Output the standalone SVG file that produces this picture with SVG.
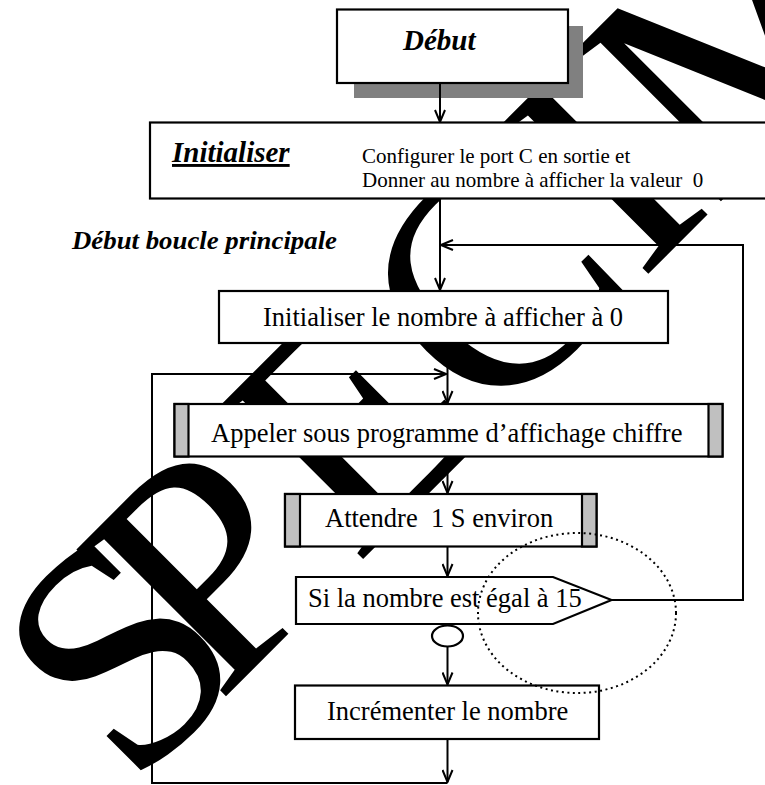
<svg xmlns="http://www.w3.org/2000/svg" width="765" height="785" viewBox="0 0 765 785">
  <style>
    .box { fill: #ffffff; stroke: #000000; stroke-width: 2.2; }
    .bar { fill: #c0c0c0; stroke: #000000; stroke-width: 2.2; }
    .wire { fill: none; stroke: #000000; stroke-width: 2; }
    .t { font-family: "Liberation Serif", "Times New Roman", serif; font-size: 26.5px; fill: #000000; }
    .small { font-family: "Liberation Serif", "Times New Roman", serif; font-size: 21px; fill: #000000; }
    .bi { font-family: "Liberation Serif", "Times New Roman", serif; font-weight: bold; font-style: italic; fill: #000000; }
    .wm { font-family: "Liberation Serif", "Times New Roman", serif; font-size: 320px; fill: #000000; }
  </style>
  <defs>
    <marker id="arrow" viewBox="0 0 14 12" refX="13" refY="6" markerWidth="14" markerHeight="12" markerUnits="userSpaceOnUse" orient="auto">
      <path d="M1,1 L13,6 L1,11" fill="none" stroke="#000000" stroke-width="2"/>
    </marker>
  </defs>

  <rect width="765" height="785" fill="#ffffff"/>

  <!-- diagonal watermark behind the chart -->
  <text class="wm" transform="translate(136,789) rotate(-45)" x="-5 118 314 502 715 820 1100 1295" y="-2">SPECIMEN</text>

  <g id="debut">
    <rect x="354" y="26" width="229" height="72" fill="#808080"/>
    <rect class="box" x="337" y="9.5" width="231" height="73.5"/>
    <text class="bi" x="403" y="50" font-size="29">Début</text>
  </g>

  <g id="initialiser">
    <rect class="box" x="150" y="122.5" width="625" height="76"/>
    <text class="bi" x="172" y="162" font-size="29" text-decoration="underline">Initialiser</text>
    <text class="small" x="362" y="163">Configurer le port C en sortie et</text>
    <text class="small" x="362" y="187" xml:space="preserve">Donner au nombre à afficher la valeur  0</text>
  </g>

  <g id="label-boucle">
    <text class="bi" x="72" y="249" font-size="25" textLength="265" lengthAdjust="spacingAndGlyphs">Début boucle principale</text>
  </g>

  <g id="init-nombre">
    <rect class="box" x="219" y="291" width="449" height="52"/>
    <text class="t" x="263" y="326">Initialiser le nombre à afficher à 0</text>
  </g>

  <g id="appeler">
    <rect class="box" x="174.5" y="404" width="548" height="52.5"/>
    <rect class="bar" x="174.5" y="404" width="14" height="52.5"/>
    <rect class="bar" x="708.5" y="404" width="14" height="52.5"/>
    <text class="t" x="211" y="442">Appeler sous programme d’affichage chiffre</text>
  </g>

  <g id="attendre">
    <rect class="box" x="285" y="494" width="311.5" height="52.5"/>
    <rect class="bar" x="285" y="494" width="15" height="52.5"/>
    <rect class="bar" x="582" y="494" width="14.5" height="52.5"/>
    <text class="t" x="325" y="527" xml:space="preserve">Attendre  1 S environ</text>
  </g>

  <g id="test">
    <path class="box" d="M296,577 L553,577 L611.5,600 L553,624 L296,624 Z"/>
    <text class="t" x="308" y="607">Si la nombre est égal à 15</text>
  </g>

  <g id="sortie-non">
    <ellipse class="box" cx="447.5" cy="636" rx="15.5" ry="10.5" stroke-width="2"/>
  </g>

  <g id="incrementer">
    <rect class="box" x="295" y="685.5" width="304" height="53.5"/>
    <text class="t" x="327" y="720">Incrémenter le nombre</text>
  </g>

  <g id="repere">
    <ellipse cx="577" cy="613" rx="99" ry="80" fill="none" stroke="#000000" stroke-width="2" stroke-dasharray="2 3.5"/>
  </g>

  <g id="connecteurs">
    <line class="wire" x1="440" y1="83" x2="440" y2="122" marker-end="url(#arrow)"/>
    <line class="wire" x1="440" y1="198.5" x2="440" y2="290" marker-end="url(#arrow)"/>
    <polyline class="wire" points="612,600 743,600 743,245 441,245" marker-end="url(#arrow)"/>
    <line class="wire" x1="447.5" y1="343" x2="447.5" y2="403" marker-end="url(#arrow)"/>
    <polyline class="wire" points="447.5,783 152,783 152,374 446,374" marker-end="url(#arrow)"/>
    <line class="wire" x1="447.5" y1="456.5" x2="447.5" y2="493" marker-end="url(#arrow)"/>
    <line class="wire" x1="447.5" y1="546.5" x2="447.5" y2="576" marker-end="url(#arrow)"/>
    <line class="wire" x1="447.5" y1="646.5" x2="447.5" y2="684.5" marker-end="url(#arrow)"/>
    <line class="wire" x1="447.5" y1="739" x2="447.5" y2="782" marker-end="url(#arrow)"/>
  </g>
</svg>
